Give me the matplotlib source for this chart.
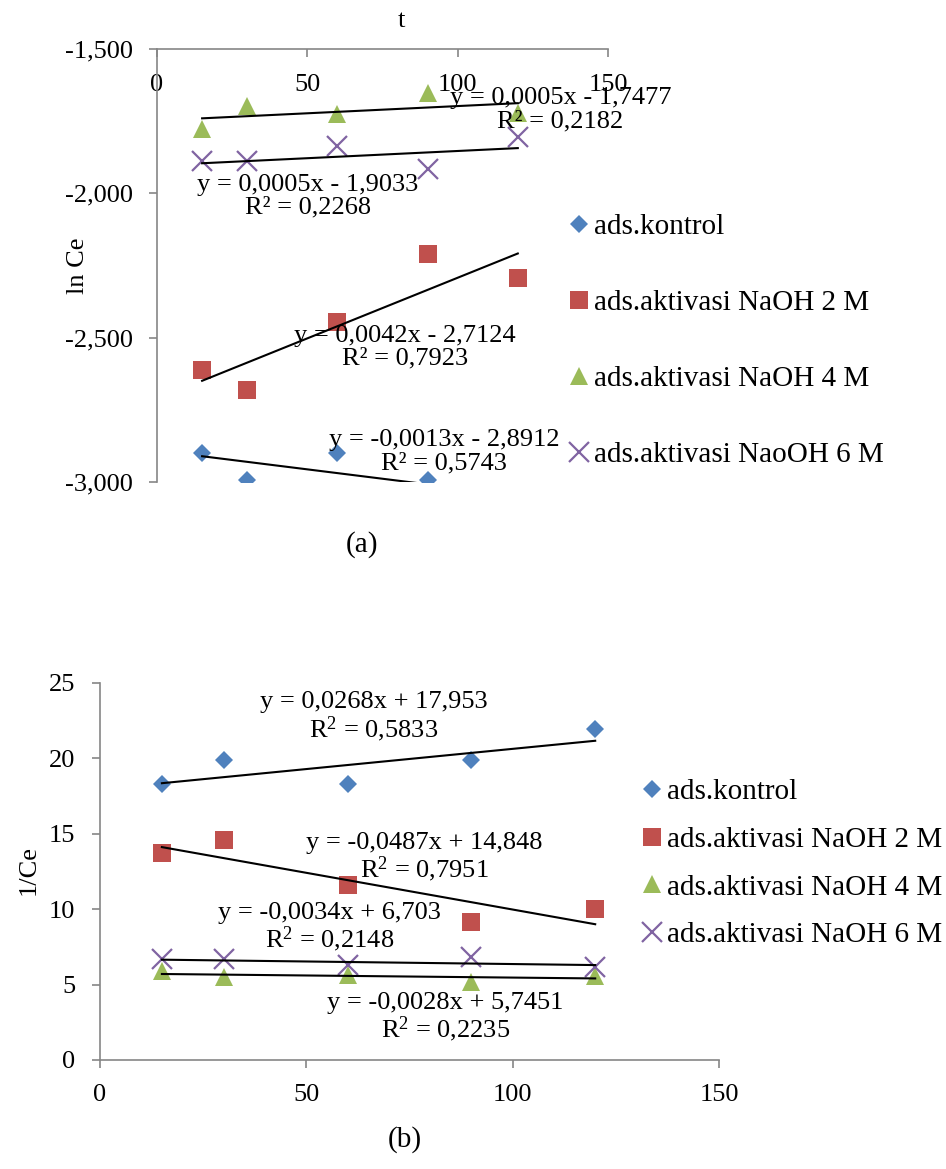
import numpy as np
import matplotlib
matplotlib.use("Agg")
import matplotlib.pyplot as plt
from matplotlib.ticker import FuncFormatter

# sampling times (min)
t = [15, 30, 60, 90, 120]

labels_a = ["ads.kontrol", "ads.aktivasi NaOH 2 M", "ads.aktivasi NaOH 4 M", "ads.aktivasi NaoOH 6 M"]
labels_b = ["ads.kontrol", "ads.aktivasi NaOH 2 M", "ads.aktivasi NaOH 4 M", "ads.aktivasi NaOH 6 M"]

# (a) ln Ce  -- kontrol at 120 min lies below the -3 axis floor, not visible
lnce_kontrol = [-2.900, -2.993, -2.900, -2.993, np.nan]
lnce_2m = [-2.613, -2.682, -2.447, -2.209, -2.295]
lnce_4m = [-1.777, -1.697, -1.725, -1.652, -1.721]
lnce_6m = [-1.887, -1.887, -1.835, -1.915, -1.804]
fit_a_slope = [-0.0013, 0.0042, 0.0005, 0.0005]
fit_a_icpt = [-2.8912, -2.7124, -1.7477, -1.9033]
fit_a_r2 = [0.5743, 0.7923, 0.2182, 0.2268]

# (b) 1/Ce
inv_kontrol = [18.27, 19.90, 18.27, 19.90, 21.95]
inv_2m = [13.72, 14.60, 11.58, 9.18, 10.00]
inv_4m = [5.90, 5.50, 5.65, 5.20, 5.55]
inv_6m = [6.69, 6.69, 6.32, 6.80, 6.15]
fit_b_slope = [0.0268, -0.0487, -0.0028, -0.0034]
fit_b_icpt = [17.953, 14.848, 5.7451, 6.703]
fit_b_r2 = [0.5833, 0.7951, 0.2235, 0.2148]

BLUE, RED, GREEN, PURPLE = "#4F81BD", "#C0504D", "#9BBB59", "#8064A2"
GRAY = "#868686"
W, H = 946, 1169

plt.rcParams.update({"font.family": "serif",
                     "font.serif": ["Liberation Serif", "DejaVu Serif"],
                     "mathtext.fontset": "custom",
                     "mathtext.rm": "Liberation Serif",
                     "mathtext.it": "Liberation Serif:italic"})

styles = [dict(marker="D", ms=9.5, color=BLUE, mew=0),
          dict(marker="s", ms=13.5, color=RED, mew=0),
          dict(marker="^", ms=13.5, color=GREEN, mew=0),
          dict(marker="x", ms=14, color=PURPLE, mew=1.6)]


def dec(s):
    return s.replace(".", ",")


def eq_text(m, b, r2, sup):
    sign = "+" if b >= 0 else "-"
    line1 = dec(f"y = {m:.5g}x {sign} {abs(b):.5g}")
    r = r"R$^{2}$" if sup else "R²"
    return line1 + "\n" + r + dec(f" = {r2:.4f}")


def fig_box(l, t_, r, b):
    return [l / W, 1 - b / H, (r - l) / W, (b - t_) / H]


fig = plt.figure(figsize=(W / 100, H / 100), dpi=100)

# ---------------- (a) ----------------
ax1 = fig.add_axes(fig_box(157, 49, 608, 482))
series_a = [lnce_kontrol, lnce_2m, lnce_4m, lnce_6m]
handles = []
for ys, st in zip(series_a, styles):
    handles.append(ax1.plot(t, ys, ls="none", **st)[0])
xf = np.array([t[0], t[-1]])
for m, b in zip(fit_a_slope, fit_a_icpt):
    ax1.plot(xf, m * xf + b, color="black", lw=1.5)
ax1.set_xlim(0, 150)
ax1.set_ylim(-3, -1.5)
ax1.set_xticks([0, 50, 100, 150])
ax1.set_yticks([-3, -2.5, -2, -1.5])
ax1.yaxis.set_major_formatter(FuncFormatter(lambda v, p: dec(f"{v:.3f}")))
for s in ["right", "bottom"]:
    ax1.spines[s].set_visible(False)
for s in ["left", "top"]:
    ax1.spines[s].set_color(GRAY)
    ax1.spines[s].set_linewidth(1.2)
ax1.xaxis.tick_top()
ax1.tick_params(axis="x", direction="in", length=6, width=1.2, pad=-34,
                colors=GRAY, labelcolor="black", labelsize=19)
ax1.tick_params(axis="y", direction="out", length=6, width=1.2, pad=11.5,
                colors=GRAY, labelcolor="black", labelsize=19)
ax1.set_xlabel("t", fontsize=19)
ax1.xaxis.set_label_position("top")
ax1.xaxis.set_label_coords(0.541, 1.051)
ax1.set_ylabel("ln Ce", fontsize=19)
ax1.yaxis.set_label_coords(-0.15, 0.5)

pos_a = [(95.5, -2.895), (82.4, -2.533), (134.2, -1.710), (50.2, -2.011)]
for (px, py), m, b, r2 in zip(pos_a, fit_a_slope, fit_a_icpt, fit_a_r2):
    ax1.text(px, py, eq_text(m, b, r2, False), ha="center", va="center",
             ma="center", fontsize=19, linespacing=1.05)

fig.legend(handles, labels_a, loc="center left", bbox_to_anchor=(569 / W, 1 - 340.5 / H),
           frameon=False, fontsize=21, handlelength=0.7, handletextpad=0.14,
           labelspacing=1.7, borderpad=0, borderaxespad=0)
fig.text(362 / W, 1 - 545 / H, "(a)", ha="center", va="center", fontsize=21)

# ---------------- (b) ----------------
ax2 = fig.add_axes(fig_box(100, 683, 719, 1060))
series_b = [inv_kontrol, inv_2m, inv_4m, inv_6m]
handles = []
for ys, st in zip(series_b, styles):
    handles.append(ax2.plot(t, ys, ls="none", **st)[0])
for m, b in zip(fit_b_slope, fit_b_icpt):
    ax2.plot(xf, m * xf + b, color="black", lw=1.5)
ax2.set_xlim(0, 150)
ax2.set_ylim(0, 25)
ax2.set_xticks([0, 50, 100, 150])
ax2.set_yticks([0, 5, 10, 15, 20, 25])
for s in ["right", "top"]:
    ax2.spines[s].set_visible(False)
for s in ["left", "bottom"]:
    ax2.spines[s].set_color(GRAY)
    ax2.spines[s].set_linewidth(1.2)
ax2.tick_params(axis="x", direction="out", length=6, width=1.2, pad=11,
                colors=GRAY, labelcolor="black", labelsize=19)
ax2.tick_params(axis="y", direction="out", length=6, width=1.2, pad=12,
                colors=GRAY, labelcolor="black", labelsize=19)
ax2.set_ylabel("1/Ce", fontsize=19)
ax2.yaxis.set_label_coords(-0.097, 0.504)

pos_b = [(66.4, 22.71), (78.5, 13.4), (83.7, 2.79), (55.7, 8.75)]
for (px, py), m, b, r2 in zip(pos_b, fit_b_slope, fit_b_icpt, fit_b_r2):
    ax2.text(px, py, eq_text(m, b, r2, True), ha="center", va="center",
             ma="center", fontsize=19, linespacing=1.05)

fig.legend(handles, labels_b, loc="center left", bbox_to_anchor=(642 / W, 1 - 863.5 / H),
           frameon=False, fontsize=21, handlelength=0.7, handletextpad=0.14,
           labelspacing=0.73, borderpad=0, borderaxespad=0)
fig.text(405 / W, 1 - 1140 / H, "(b)", ha="center", va="center", fontsize=21)

fig.savefig("out.png", dpi=100, facecolor="white")
